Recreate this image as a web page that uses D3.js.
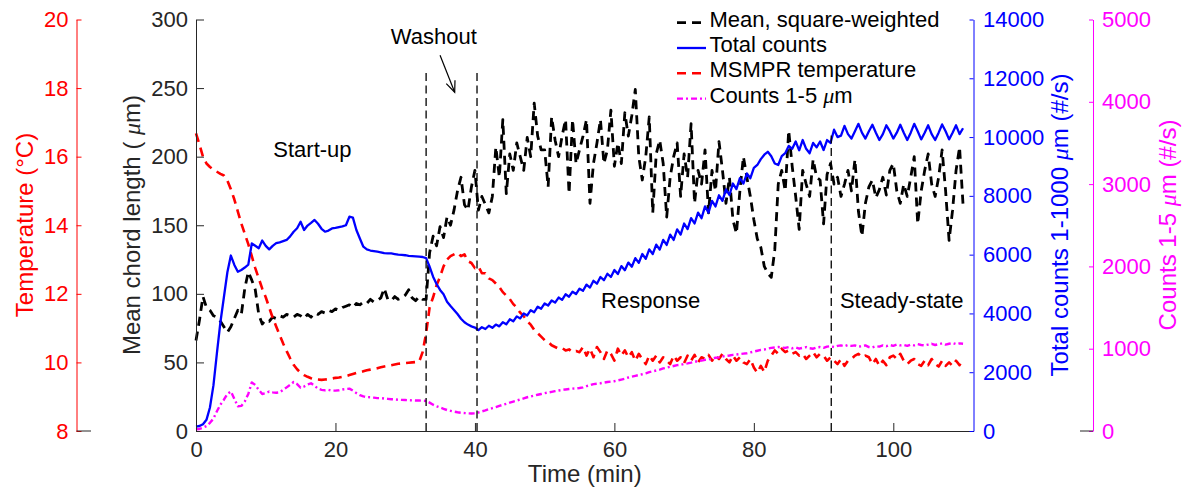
<!DOCTYPE html>
<html>
<head>
<meta charset="utf-8">
<script src="https://cdn.jsdelivr.net/npm/d3@7/dist/d3.min.js"></script>
<style>
body { margin: 0; background: #fff; }
svg text { font-family: "Liberation Sans", Arial, sans-serif; }
</style>
</head>
<body>
<svg id="chart" width="1183" height="490"></svg>
<script>
"use strict";
// sampling interval of all series (min), first sample at t = 0
const step = 0.5;

// mean chord length, square-weighted (um)
const chordMean = [
  66, 81, 98, 90, 88, 84, 83, 80, 76, 72,
  76, 82, 88, 85, 104, 116, 110, 103, 85, 78,
  81, 80, 83, 82, 84, 83, 85, 84, 83, 85,
  84, 82, 85, 83, 86, 85, 87, 86, 88, 87,
  89, 88, 90, 91, 92, 90, 93, 92, 94, 93,
  96, 94, 95, 97, 104, 96, 95, 98, 96, 97,
  99, 103, 97, 95, 98, 96, 96, 130, 142, 135,
  149, 141, 156, 150, 161, 175, 185, 165, 161, 178,
  190, 161, 171, 165, 159, 171, 207, 185, 227, 173,
  202, 190, 210, 200, 190, 214, 200, 239, 215, 205,
  205, 178, 229, 212, 200, 215, 227, 173, 227, 195,
  205, 215, 227, 166, 195, 210, 227, 195, 205, 234,
  193, 210, 195, 232, 215, 230, 249, 200, 183, 200,
  229, 159, 202, 212, 195, 156, 185, 200, 210, 171,
  202, 185, 224, 166, 190, 180, 205, 159, 190, 175,
  211, 190, 166, 185, 154, 144, 175, 200, 185, 171,
  154, 140, 134, 120, 115, 112, 132, 180, 190, 175,
  219, 193, 171, 147, 190, 180, 171, 198, 185, 183,
  151, 187, 195, 180, 185, 171, 180, 190, 175, 198,
  160, 142, 166, 178, 183, 170, 176, 185, 172, 190,
  195, 175, 166, 180, 171, 185, 200, 151, 175, 190,
  202, 180, 171, 185, 205, 175, 139, 161, 190, 207,
  165
];

// total counts 1-1000 um (#/s)
const totalCounts = [
  150, 170, 230, 380, 800, 1550, 2650, 3700, 4550, 5400,
  5970, 5650, 5420, 5480, 5560, 5660, 6380, 6300, 6220, 6480,
  6300, 6180, 6300, 6390, 6420, 6460, 6500, 6620, 6780, 6900,
  7120, 6840, 6990, 7080, 7180, 7050, 6880, 6780, 6820, 6890,
  6910, 6940, 6960, 7000, 7290, 7260, 6840, 6550, 6270, 6180,
  6140, 6120, 6100, 6080, 6050, 6040, 6040, 6020, 6000, 5990,
  5980, 5960, 5950, 5940, 5930, 5920, 5880, 5590, 5250, 5000,
  4800, 4650, 4400, 4250, 4120, 3980, 3820, 3700, 3620, 3560,
  3520, 3430, 3530, 3470, 3580, 3510, 3620, 3560, 3700, 3630,
  3800, 3730, 3900, 3830, 4000, 3930, 4110, 4040, 4230, 4160,
  4340, 4270, 4440, 4370, 4540, 4460, 4650, 4570, 4740, 4660,
  4840, 4770, 4980, 4880, 5110, 5010, 5240, 5130, 5350, 5240,
  5480, 5340, 5610, 5470, 5730, 5590, 5880, 5720, 6020, 5860,
  6180, 6020, 6340, 6170, 6500, 6330, 6680, 6500, 6860, 6680,
  7060, 6870, 7240, 7060, 7430, 7240, 7640, 7430, 7830, 7640,
  8020, 7830, 8220, 8030, 8420, 8230, 8600, 8420, 8760, 8600,
  8950, 9050, 9250, 9400, 9500, 9350, 9100, 9050, 9350, 9450,
  9700, 9600, 9850, 9550, 9900, 9600, 9450, 9800, 9650, 9850,
  9560, 9900, 9800, 10250, 10000, 10050, 10380, 10100, 9950, 10200,
  10450, 10150, 9950, 10200, 10420, 10150, 9900, 10100, 10400, 10200,
  9950, 10150, 10420, 10150, 9900, 10150, 10450, 10200, 9920, 10150,
  10400, 10100, 9900, 10150, 10430, 10200, 9920, 10150, 10400, 10100,
  10300
];

// MSMPR temperature (deg C)
const temperature = [
  16.68, 16.35, 16.0, 15.8, 15.7, 15.62, 15.56, 15.5, 15.45, 15.3,
  15.05, 14.75, 14.4, 14.05, 13.75, 13.45, 13.1, 12.75, 12.45, 12.15,
  11.9, 11.6, 11.3, 11.05, 10.8, 10.55, 10.33, 10.12, 9.93, 9.8,
  9.7, 9.63, 9.58, 9.54, 9.51, 9.5, 9.49, 9.5, 9.51, 9.53,
  9.55, 9.56, 9.58, 9.6, 9.63, 9.66, 9.69, 9.71, 9.74, 9.77,
  9.79, 9.81, 9.83, 9.86, 9.88, 9.9, 9.92, 9.94, 9.96, 9.97,
  9.98, 9.99, 10.0, 10.01, 10.02, 10.3, 10.85, 11.6, 11.9, 12.25,
  12.5, 12.8, 13.0, 13.1, 13.15, 13.2, 13.1, 13.15, 12.95, 12.9,
  12.75, 12.8, 12.6, 12.6, 12.45, 12.4, 12.3, 12.2, 12.05, 11.95,
  11.85, 11.7, 11.6, 11.45, 11.35, 11.2, 11.1, 10.95, 10.85, 10.75,
  10.65, 10.6, 10.5, 10.45, 10.4, 10.42, 10.35, 10.38, 10.3, 10.33,
  10.3, 10.45, 10.2, 10.4, 10.15, 10.45, 10.3, 10.1, 10.35, 10.25,
  10.05, 10.4, 10.2, 10.35, 10.15, 10.3, 10.05, 10.25, 10.1, 9.95,
  10.2, 10.05, 10.2, 10.0, 10.15, 10.05, 9.95, 10.2, 10.05, 10.15,
  9.98, 10.2, 10.05, 10.22, 10.0, 10.15, 10.1, 10.22, 10.05, 10.2,
  10.1, 10.25, 10.1, 10.0, 10.2, 10.05, 10.15, 10.0, 9.95, 10.1,
  9.85, 9.7, 9.9, 9.72, 10.05, 10.2, 10.35, 10.25, 10.4, 10.3,
  10.35, 10.25, 10.3, 10.2, 10.25, 10.1, 10.2, 10.3, 10.15, 10.25,
  10.2, 10.05, 10.15, 10.05, 9.95, 10.1, 9.9, 10.05, 10.1, 10.2,
  10.25, 10.15, 10.2, 10.15, 9.95, 10.1, 9.9, 10.05, 9.92, 10.15,
  10.2, 10.1, 10.25, 10.05, 9.95, 10.05, 10.1, 9.95, 9.9, 10.05,
  9.92, 10.1, 9.95, 9.88, 10.05, 9.9, 10.0, 9.9, 10.05, 9.92,
  10.1
];

// counts 1-5 um (#/s)
const countsSmall = [
  20, 25, 40, 60, 100, 150, 240, 320, 380, 450,
  480, 390, 300, 305, 360, 450, 590, 560, 500, 450,
  460, 480, 470, 465, 470, 500, 530, 560, 595, 570,
  525, 540, 565, 580, 550, 515, 500, 495, 500, 490,
  490, 495, 505, 510, 515, 490, 460, 435, 420, 412,
  410, 405, 400, 400, 395, 390, 385, 385, 380, 378,
  376, 374, 372, 370, 370, 368, 365, 345, 320, 300,
  285, 270, 255, 245, 235, 228, 222, 218, 215, 213,
  214, 225, 238, 250, 265, 278, 290, 305, 318, 330,
  345, 358, 370, 383, 396, 410, 420, 430, 440, 450,
  460, 468, 476, 484, 492, 498, 505, 510, 515, 518,
  522, 530, 545, 555, 570, 575, 580, 588, 595, 600,
  605, 615, 625, 635, 650, 660, 670, 680, 690, 700,
  715, 725, 735, 745, 760, 770, 780, 790, 800, 805,
  815, 822, 830, 840, 850, 855, 865, 870, 880, 890,
  895, 905, 912, 918, 925, 930, 935, 940, 945, 955,
  965, 975, 985, 990, 1000, 1010, 1015, 1020, 1015, 1010,
  1020, 1005, 1015, 1000, 1010, 1020, 1005, 1000, 1015, 1020,
  1010, 1025, 1030, 1020, 1035, 1040, 1030, 1045, 1035, 1040,
  1025, 1030, 1040, 1020, 1015, 1030, 1025, 1040, 1030, 1045,
  1035, 1050, 1040, 1045, 1035, 1050, 1040, 1055, 1045, 1040,
  1050, 1060, 1045, 1055, 1065, 1050, 1060, 1070, 1055, 1065,
  1060
];

const timeTicks = [0, 20, 40, 60, 80, 100];
const chordTicks = [0, 50, 100, 150, 200, 250, 300];
const tempTicks = [8, 10, 12, 14, 16, 18, 20];
const totalTicks = [0, 2000, 4000, 6000, 8000, 10000, 12000, 14000];
const smallTicks = [0, 1000, 2000, 3000, 4000, 5000];

// phase boundaries (min) and the chord value where each marker line stops
const phaseTimes = [33, 40.3, 91.1];
const phaseTops = [261, 261, 216];
const phaseNames = ["Start-up", "Response", "Steady-state"];
const phaseNameAt = [[16.7, 200], [65.2, 89.5], [101.2, 89.5]];
const washout = { text: "Washout", at: [34.1, 282.5], from: [35, 274], to: [37.1, 247] };

const legendNames = ["Mean, square-weighted", "Total counts", "MSMPR temperature", "Counts 1-5 \u03bcm"];

const svg = d3.select("#chart");
const fontFam = "'Liberation Sans', Arial, sans-serif";
const axisCol = "#262626";
const plain = d3.format("d");

const x = d3.scaleLinear().domain([0, 111.5]).range([196, 973.5]);
const yChord = d3.scaleLinear().domain([0, 300]).range([431, 19.5]);
const yTemp = d3.scaleLinear().domain([8, 20]).range([431, 19.5]);
const yTotal = d3.scaleLinear().domain([0, 14000]).range([431, 19.5]);
const ySmall = d3.scaleLinear().domain([0, 5000]).range([431, 19.5]);
const tempAxisX = 76.5, smallAxisX = 1093;

function styleAxis(g, col) {
  g.attr("font-size", 22).attr("font-family", fontFam);
  g.select(".domain").attr("stroke", col).attr("stroke-width", 1);
  g.selectAll(".tick line").attr("stroke", col);
  g.selectAll(".tick text").attr("fill", col);
}

// series
const styles = {
  chord: { color: "#000", width: 2.8, dash: "9,6" },
  total: { color: "#0000ff", width: 2.3, dash: null },
  temp: { color: "#ff0000", width: 2.6, dash: "9,6" },
  small: { color: "#ff00ff", width: 2.4, dash: "6,3,2,3" }
};
function drawSeries(values, yScale, st) {
  const line = d3.line().x((d, i) => x(i * step)).y(d => yScale(d));
  svg.append("path").datum(values)
    .attr("d", line)
    .attr("fill", "none")
    .attr("stroke", st.color)
    .attr("stroke-width", st.width)
    .attr("stroke-dasharray", st.dash)
    .attr("stroke-linejoin", "round");
}
drawSeries(chordMean, yChord, styles.chord);
drawSeries(temperature, yTemp, styles.temp);
drawSeries(countsSmall, ySmall, styles.small);
drawSeries(totalCounts, yTotal, styles.total);

// phase marker lines
svg.selectAll("line.phase").data(phaseTimes).enter().append("line")
  .attr("class", "phase")
  .attr("x1", d => x(d)).attr("x2", d => x(d))
  .attr("y1", yChord(0)).attr("y2", (d, i) => yChord(phaseTops[i]))
  .attr("stroke", "#000").attr("stroke-width", 1.3).attr("stroke-dasharray", "8,4.5");

svg.selectAll("text.phase").data(phaseNames).enter().append("text")
  .attr("class", "phase")
  .attr("x", (d, i) => x(phaseNameAt[i][0]))
  .attr("y", (d, i) => yChord(phaseNameAt[i][1]))
  .attr("text-anchor", "middle").attr("font-size", 22).attr("fill", "#000")
  .text(d => d);

svg.append("text")
  .attr("x", x(washout.at[0])).attr("y", yChord(washout.at[1]))
  .attr("text-anchor", "middle").attr("font-size", 22).attr("fill", "#000")
  .text(washout.text);
{
  const x1 = x(washout.from[0]), y1 = yChord(washout.from[1]);
  const x2 = x(washout.to[0]), y2 = yChord(washout.to[1]);
  svg.append("line").attr("x1", x1).attr("y1", y1).attr("x2", x2).attr("y2", y2)
    .attr("stroke", "#000").attr("stroke-width", 1.2);
  const ang = Math.atan2(y2 - y1, x2 - x1), len = 12, spread = 0.4;
  const head = [ang + Math.PI - spread, ang + Math.PI + spread]
    .map(a => [x2 + len * Math.cos(a), y2 + len * Math.sin(a)]);
  svg.append("path")
    .attr("d", `M${head[0][0]},${head[0][1]}L${x2},${y2}L${head[1][0]},${head[1][1]}`)
    .attr("fill", "none").attr("stroke", "#000").attr("stroke-width", 1.2);
}

// axes
svg.append("g").attr("transform", `translate(0,${yChord(0)})`)
  .call(d3.axisBottom(x).tickValues(timeTicks).tickFormat(plain).tickSizeInner(-8).tickSizeOuter(0).tickPadding(10))
  .call(g => styleAxis(g, axisCol));
svg.append("g").attr("transform", `translate(${x(0)},0)`)
  .call(d3.axisLeft(yChord).tickValues(chordTicks).tickFormat(plain).tickSizeInner(-8).tickSizeOuter(0).tickPadding(8))
  .call(g => styleAxis(g, axisCol));
svg.append("g").attr("transform", `translate(${tempAxisX},0)`)
  .call(d3.axisLeft(yTemp).tickValues(tempTicks).tickFormat(plain).tickSizeInner(-5).tickSizeOuter(0).tickPadding(8))
  .call(g => styleAxis(g, "#ff0000"));
svg.append("g").attr("transform", `translate(${x.range()[1]},0)`)
  .call(d3.axisRight(yTotal).tickValues(totalTicks).tickFormat(plain).tickSizeInner(-4).tickSizeOuter(0).tickPadding(9.5))
  .call(g => styleAxis(g, "#0000ff"));
svg.append("g").attr("transform", `translate(${smallAxisX},0)`)
  .call(d3.axisRight(ySmall).tickValues(smallTicks).tickFormat(plain).tickSizeInner(-4).tickSizeOuter(0).tickPadding(9))
  .call(g => styleAxis(g, "#ff00ff"));

// small baseline stubs of the offset axes
svg.append("line").attr("x1", tempAxisX).attr("x2", tempAxisX + 14.5)
  .attr("y1", yTemp(8)).attr("y2", yTemp(8)).attr("stroke", axisCol);
svg.append("line").attr("x1", smallAxisX - 13).attr("x2", smallAxisX)
  .attr("y1", ySmall(0)).attr("y2", ySmall(0)).attr("stroke", axisCol);

// axis titles
function vTitle(xPos, col, parts) {
  const t = svg.append("text")
    .attr("transform", `translate(${xPos},225) rotate(-90)`)
    .attr("text-anchor", "middle").attr("font-size", 24).attr("fill", col);
  parts.forEach(p => {
    const s = t.append("tspan").text(p[0]);
    if (p[1]) s.attr("font-family", "'Liberation Serif', serif").attr("font-style", "italic");
  });
}
vTitle(33, "#ff0000", [["Temperature (\u00b0C)"]]);
vTitle(140, axisCol, [["Mean chord length ( "], ["\u03bc", 1], ["m)"]]);
vTitle(1068, "#0000ff", [["Total counts 1-1000 "], ["\u03bc", 1], ["m (#/s)"]]);
vTitle(1176, "#ff00ff", [["Counts 1-5 "], ["\u03bc", 1], ["m (#/s)"]]);

svg.append("text").attr("x", (x.range()[0] + x.range()[1]) / 2).attr("y", 482)
  .attr("text-anchor", "middle").attr("font-size", 24).attr("fill", axisCol)
  .text("Time (min)");

// legend
const legendStyles = [styles.chord, styles.total, styles.temp, styles.small];
const lg = svg.append("g").attr("transform", "translate(677,26.7)");
legendNames.forEach((name, i) => {
  const row = lg.append("g").attr("transform", `translate(0,${i * 25.3})`);
  const st = legendStyles[i];
  row.append("line").attr("x1", 0).attr("x2", 29).attr("y1", -4).attr("y2", -4)
    .attr("stroke", st.color).attr("stroke-width", st.width)
    .attr("stroke-dasharray", st.dash);
  const t = row.append("text").attr("x", 32.5).attr("y", 0)
    .attr("font-size", 22).attr("fill", "#000");
  if (name.includes("\u03bc")) {
    const [a, b] = name.split("\u03bc");
    t.append("tspan").text(a);
    t.append("tspan").text("\u03bc").attr("font-family", "'Liberation Serif', serif").attr("font-style", "italic");
    t.append("tspan").text(b);
  } else {
    t.text(name);
  }
});
</script>
</body>
</html>
